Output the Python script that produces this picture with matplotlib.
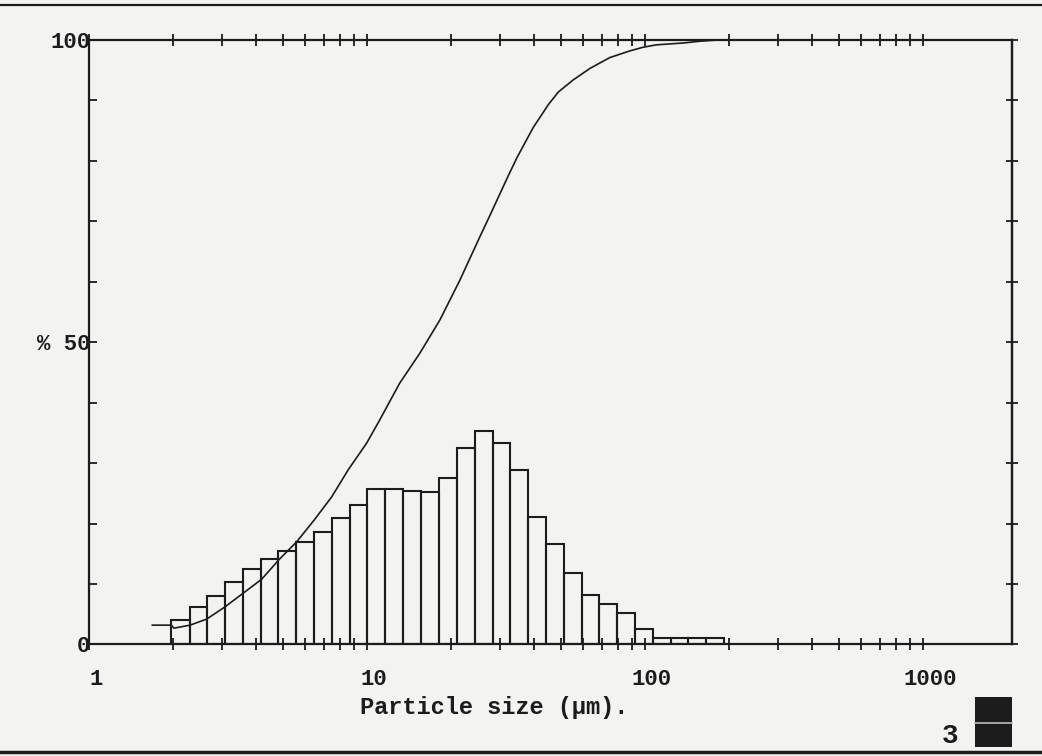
import matplotlib

matplotlib.use('Agg')
import matplotlib.pyplot as plt
import numpy as np
from matplotlib.patches import Rectangle
from matplotlib.transforms import ScaledTranslation

# histogram bin edges (um) and band heights (%)
bin_edges = [1.98, 2.30, 2.66, 3.08, 3.57, 4.14, 4.80, 5.57, 6.45, 7.48, 8.67,
             10.0, 11.6, 13.5, 15.7, 18.2, 21.0, 24.4, 28.3, 32.8, 38.0,
             44.0, 51.0, 59.2, 68.6, 79.5, 92.1, 107, 124, 143, 166, 193]
freq = [4.05, 6.25, 8.07, 10.3, 12.5, 14.2, 15.5, 16.9, 18.6, 20.9,
        23.1, 25.7, 25.7, 25.4, 25.3, 27.5, 32.5, 35.3, 33.4, 28.9,
        21.1, 16.7, 11.8, 8.2, 6.75, 5.16, 2.51, 1.03, 1.03, 1.03, 1.03]

# cumulative undersize curve
cum_size = [1.69, 1.98, 2.02, 2.31, 2.65, 3.08, 3.59, 4.18, 4.84, 5.59, 6.46,
            7.46, 8.56, 9.97, 11.1, 13.1, 15.5, 18.3, 21.6, 25.5, 27.7,
            30.1, 32.2, 34.6, 39.6, 44.9, 48.8, 55.2, 63.4, 74.8, 88.3,
            98.4, 110, 137, 158, 182]
cum_pct = [3.2, 3.2, 2.7, 3.2, 4.2, 6.2, 8.5, 10.8, 14.1, 17.0, 20.6,
           24.4, 28.9, 33.3, 37.1, 43.2, 48.2, 53.7, 60.3, 67.5, 71.0,
           74.6, 77.5, 80.5, 85.5, 89.3, 91.4, 93.4, 95.3, 97.1, 98.2,
           98.8, 99.2, 99.5, 99.8, 100]

x_ticks = [1, 10, 100, 1000]
x_labels = ['1', '10', '100', '1000']
y_labels = {0: '0', 50: '% 50', 100: '100'}

paper = '#f3f3f1'
ink = '#1c1c1c'
mono = ['Liberation Mono', 'DejaVu Sans Mono']

fig = plt.figure(figsize=(10.42, 7.56), dpi=100, facecolor=paper)
ax = fig.add_axes([0.0854, 0.1475, 0.8858, 0.7996])
ax.set_facecolor(paper)
ax.set_xscale('log')
ax.set_xlim(1, 2090)
ax.set_ylim(0, 100)

# histogram as open bars
edges = np.array(bin_edges)
ax.bar(edges[:-1], freq, width=np.diff(edges), align='edge', fill=False,
       edgecolor=ink, linewidth=1.5)

# cumulative curve
ax.plot(cum_size, cum_pct, color=ink, linewidth=1.2)

for s in ax.spines.values():
    s.set_linewidth(1.6)
    s.set_color(ink)

# x ticks: decades + 2..9 minor, on bottom and top
minor = [m * 10 ** k for k in range(0, 3) for m in range(2, 10)]
ax.set_xticks(x_ticks)
ax.set_xticks(minor, minor=True)
ax.set_xticklabels(x_labels, minor=False)
ax.set_xticklabels([], minor=True)
ax.tick_params(axis='x', which='both', direction='inout', length=8, width=1.3,
               color=ink, top=True, labeltop=False, pad=14)
for lab in ax.get_xticklabels():
    lab.set_fontfamily(mono)
    lab.set_fontsize(16)
    lab.set_fontweight('bold')
    lab.set_color(ink)
    lab.set_transform(lab.get_transform() + ScaledTranslation(0.07, 0, fig.dpi_scale_trans))

# y ticks every 10 %, inward on left, crossing on right
yt = list(range(0, 101, 10))
ax.set_yticks(yt)
ax.set_yticklabels([y_labels.get(v, '') for v in yt])
ax.tick_params(axis='y', direction='in', length=6, width=1.3, color=ink, pad=-1)
for lab in ax.get_yticklabels():
    lab.set_fontfamily(mono)
    lab.set_fontsize(16)
    lab.set_fontweight('bold')
    lab.set_color(ink)
right = ax.secondary_yaxis('right')
right.set_yticks(yt)
right.set_yticklabels([])
right.tick_params(direction='inout', length=8, width=1.3, color=ink)
right.spines['right'].set_linewidth(1.6)

fig.text(0.474, 0.064, 'Particle size (\u00b5m).', fontfamily=mono, fontsize=17,
         fontweight='bold', color=ink, ha='center', va='center')
fig.text(0.912, 0.026, '3', fontfamily=mono, fontsize=20, fontweight='bold',
         color=ink, ha='center', va='center')

# little black block at the bottom right
fig.patches.append(Rectangle((0.9357, 0.012), 0.0355, 0.066, transform=fig.transFigure,
                             facecolor=ink, edgecolor='none'))
fig.lines.append(plt.Line2D([0.9357, 0.9712], [0.044, 0.044], transform=fig.transFigure,
                            color='#bbbbbb', linewidth=1.2))

# scan page rules top and bottom
fig.lines.append(plt.Line2D([0, 1], [0.9934, 0.9934], transform=fig.transFigure,
                            color=ink, linewidth=1.6))
fig.lines.append(plt.Line2D([0, 1], [0.0053, 0.0053], transform=fig.transFigure,
                            color=ink, linewidth=2.5))

fig.savefig('out.png', dpi=100, facecolor=paper)
